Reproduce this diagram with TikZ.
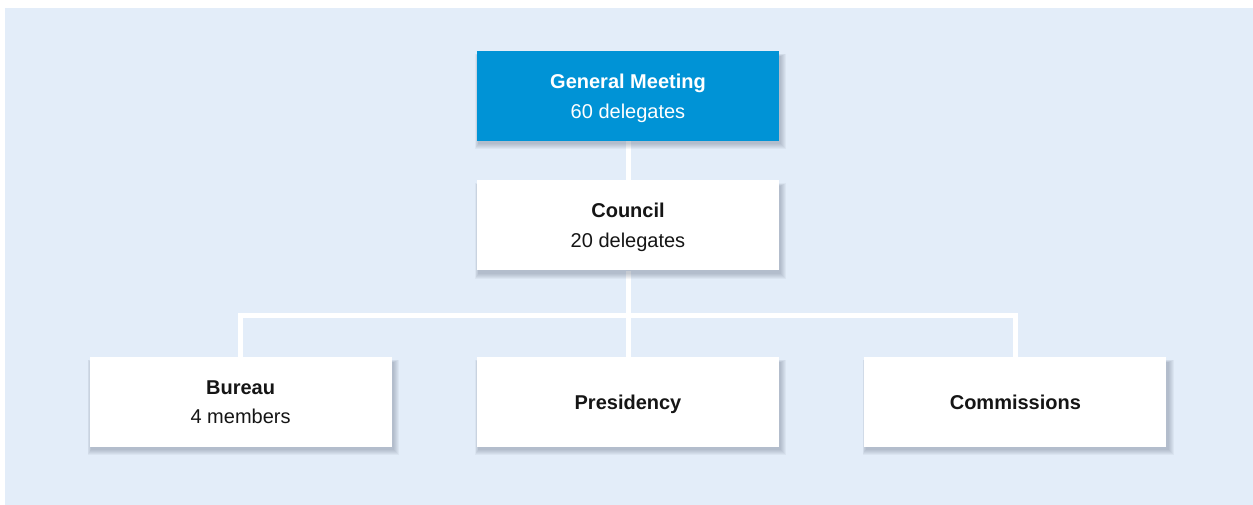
\documentclass[tikz,border=0pt]{standalone}
\usepackage{fontspec}
\setmainfont{Liberation Sans}
\usetikzlibrary{positioning, backgrounds}
\definecolor{bgblue}{HTML}{E3EDF9}
\definecolor{gmblue}{HTML}{0093D6}
\definecolor{txtdark}{HTML}{151515}
\definecolor{shadowgray}{HTML}{4A5A70}
\newcommand\lstrut{\rule[-4.2pt]{0pt}{23pt}}
\newcommand\orgtext[2]{\lstrut\textbf{#1}\\\lstrut #2}

\begin{document}
\begin{tikzpicture}[x=1pt, y=1pt,
  box/.style={minimum width=302pt, minimum height=90pt, inner sep=0pt, align=center, fill=white, text=txtdark,
    font=\fontsize{20}{29.5}\selectfont},
  link/.style={draw=white, line width=5pt},
  node distance=39pt and 85pt]
	\useasboundingbox (0,0) rectangle (1253,-504);
	\node[box, fill=gmblue, text=white] (meeting) at (628,-96) {\orgtext{General Meeting}{60 delegates}};
	\node[box, below=of meeting] (council) {\orgtext{Council}{20 delegates}};
	\node[box, below=86pt of council] (presidency) {\lstrut\textbf{Presidency}};
	\node[box, left=of presidency] (bureau) {\orgtext{Bureau}{4 members}};
	\node[box, right=of presidency] (commissions) {\lstrut\textbf{Commissions}};
	\begin{scope}[on background layer]
		\fill[bgblue] (5,-8) rectangle (1262,-515);
		\draw[link] (meeting) -- (council) -- (presidency);
		\draw[link] (bureau.north) -- ++(0,41.5) -| (commissions.north);
		\foreach \n in {meeting,council,bureau,presidency,commissions}
			\foreach \i in {1,...,6}
				\fill[shadowgray, opacity=0.06] ([shift={(2-0.6*\i,-2-\i)}]\n.south west) rectangle ([shift={(1+\i,-6+0.5*\i)}]\n.north east);
	\end{scope}
\end{tikzpicture}
\end{document}
